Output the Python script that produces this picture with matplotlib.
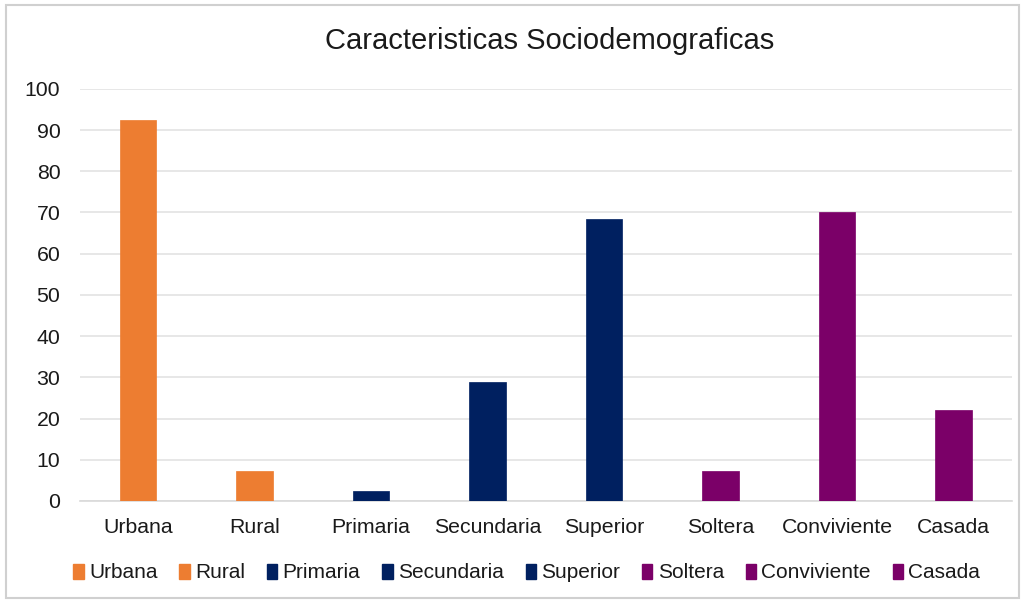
import matplotlib

matplotlib.use("Agg")
import matplotlib.pyplot as plt
from matplotlib.patches import Patch

plt.rcParams["font.family"] = ["Liberation Sans", "DejaVu Sans"]

categories = ["Urbana", "Rural", "Primaria", "Secundaria", "Superior", "Soltera", "Conviviente", "Casada"]
values = [92.5, 7.3, 2.4, 28.9, 68.5, 7.3, 70.0, 22.0]
groups = ["zona", "zona", "edu", "edu", "edu", "civil", "civil", "civil"]

GROUP_COLORS = {"zona": "#ed7d31", "edu": "#002060", "civil": "#7b0068"}
TEXT = "#1a1a1a"
GRID = "#e3e3e3"

fig = plt.figure(figsize=(10.23, 6.0), dpi=100, facecolor="white")
fig.patches.append(plt.Rectangle((0.006, 0.004), 0.99, 0.988, transform=fig.transFigure,
                                 fill=False, edgecolor="#d0d0d0", linewidth=1.5))
ax = fig.add_axes([0.078, 0.165, 0.911, 0.687])

colors = [GROUP_COLORS[g] for g in groups]
x = range(len(categories))
ax.bar(x, values, width=0.31, color=colors, edgecolor=colors, linewidth=0.5, zorder=3)

ax.set_ylim(0, 100)
ax.set_xlim(-0.5, len(categories) - 0.5)
ax.set_yticks(range(0, 101, 10))
ax.set_xticks(list(x), categories)
ax.tick_params(axis="both", length=0, labelsize=15.3, colors=TEXT)
ax.tick_params(axis="x", pad=12)
ax.tick_params(axis="y", pad=14)
ax.grid(axis="y", color=GRID, linewidth=1.2, zorder=0)
for side in ("top", "right", "left"):
    ax.spines[side].set_visible(False)
ax.spines["bottom"].set_color("#d9d9d9")
ax.spines["bottom"].set_linewidth(1.2)

fig.text(0.537, 0.932, "Caracteristicas Sociodemograficas", ha="center", va="center",
         fontsize=21, color=TEXT)

handles = [Patch(facecolor=c, edgecolor=c) for c in colors]
fig.legend(handles, categories, loc="center", bbox_to_anchor=(0.515, 0.045), ncol=8,
           frameon=False, fontsize=15, handlelength=0.5, handleheight=0.7,
           handletextpad=0.25, columnspacing=1.05, labelcolor=TEXT)

fig.savefig("out.png", dpi=100, facecolor="white")
